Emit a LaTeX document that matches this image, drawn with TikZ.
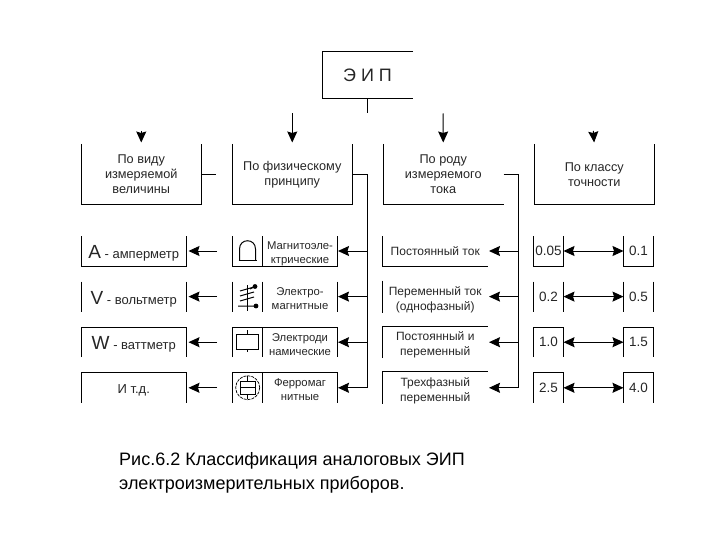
\documentclass[tikz,border=0pt]{standalone}
\usepackage{fontspec}
\setmainfont{Liberation Sans}
\usetikzlibrary{positioning,arrows.meta}
\newcommand{\drop}[1]{\rule{0pt}{#1}}
\tikzset{
    catbox/.style={rectangle, inner sep=0pt, outer sep=0pt, minimum width=120.5pt, minimum height=61pt, align=center, font=\fontsize{12.7}{15}\selectfont, text=black!85},
    widecell/.style={rectangle, inner sep=0pt, outer sep=0pt, minimum width=105.5pt, minimum height=30pt, align=center, font=\fontsize{12}{15}\selectfont, text=black!85},
    iconcell/.style={rectangle, inner sep=0pt, outer sep=0pt, minimum width=30pt, minimum height=30pt, align=center, font=\fontsize{13.5}{15}\selectfont, text=black!85},
    textcell/.style={rectangle, inner sep=0pt, outer sep=0pt, minimum width=75pt, minimum height=30pt, align=center, font=\fontsize{11.3}{14}\selectfont, text=black!85},
    edge/.style={line width=1pt, black},
    arrowline/.style={line width=1pt, black, -{Stealth[length=11pt,width=10pt,inset=1.5pt]}},
    bothline/.style={line width=1pt, black, {Stealth[length=11pt,width=10pt,inset=1.5pt]}-{Stealth[length=11pt,width=10pt,inset=1.5pt]}}
}
\begin{document}
\begin{tikzpicture}[x=1pt, y=-1pt]
    \useasboundingbox (0,0) rectangle (720,540);

    % Top box and the four categories
    \node [rectangle, inner sep=0pt, outer sep=0pt, minimum width=91pt, minimum height=46.5pt, font=\fontsize{18}{20}\selectfont, text=black!85] (eip) at (367.5,75.25) {Э И П};
    \node [catbox] (kind) at (141.25,174.5) {По виду\\измеряемой\\величины};
    \node [catbox, right=30.5pt of kind] (phys) {По физическому\\принципу};
    \node [catbox, right=30.5pt of phys] (curr) {По роду\\измеряемого\\тока};
    \node [catbox, right=30.5pt of curr] (accu) {По классу\\точности};

    % First column
    \node [widecell, font=\fontsize{13}{15}\selectfont] (amp) at (133.75,251) {\drop{18pt}{\fontsize{19}{19}\selectfont A} - амперметр};
    \node [widecell, font=\fontsize{13}{15}\selectfont, below=15.6pt of amp] (volt) {\drop{18pt}{\fontsize{19}{19}\selectfont V} - вольтметр};
    \node [widecell, font=\fontsize{13}{15}\selectfont, below=15.6pt of volt] (watt) {\drop{18pt}{\fontsize{19}{19}\selectfont W} - ваттметр};
    \node [widecell, font=\fontsize{13}{15}\selectfont, below=15.6pt of watt] (etc) {\drop{13.5pt}И т.д.};

    % Second column
    \node [iconcell, right=46pt of amp] (magicon) {};
    \node [textcell, right=0pt of magicon] (mag) {\drop{12.5pt}Магнитоэле-\\ктрические};
    \node [iconcell, right=46pt of volt] (elmicon) {};
    \node [textcell, right=0pt of elmicon] (elm) {\drop{12.5pt}Электро-\\магнитные};
    \node [iconcell, right=46pt of watt] (dynicon) {};
    \node [textcell, right=0pt of dynicon] (dyn) {\drop{12.5pt}Электроди\\намические};
    \node [iconcell, right=46pt of etc] (ferricon) {};
    \node [textcell, right=0pt of ferricon] (ferr) {\drop{12.5pt}Ферромаг\\нитные};

    % Third column
    \node [widecell, right=45pt of mag] (dc) {Постоянный ток};
    \node [widecell, right=45pt of elm] (ac) {\drop{14.6pt}Переменный ток\\(однофазный)};
    \node [widecell, right=45pt of dyn] (dcac) {\drop{14.6pt}Постоянный и\\переменный};
    \node [widecell, right=45pt of ferr] (three) {\drop{14.6pt}Трехфазный\\переменный};

    % Fourth column
    \node [iconcell, right=45.5pt of dc] (c005) {0.05};
    \node [iconcell, right=60pt of c005] (c01) {0.1};
    \node [iconcell, right=45.5pt of ac] (c02) {0.2};
    \node [iconcell, right=60pt of c02] (c05) {0.5};
    \node [iconcell, right=45.5pt of dcac] (c10) {1.0};
    \node [iconcell, right=60pt of c10] (c15) {1.5};
    \node [iconcell, right=45.5pt of three] (c25) {2.5};
    \node [iconcell, right=60pt of c25] (c40) {4.0};

    % Box outlines (only the sides that show)
    \draw [edge] (eip.north east) -- (eip.north west) -- (eip.south west) -- (eip.south east);
    \draw [edge] (kind.north west) -- (kind.south west) -- (kind.south east) -- (kind.north east);
    \draw [edge] (phys.north west) -- (phys.south west) -- (phys.south east) -- (phys.north east);
    \draw [edge] (curr.north west) -- (curr.south west) -- (curr.south east);
    \draw [edge] (accu.north west) -- (accu.south west) -- (accu.south east) -- (accu.north east);

    \draw [edge] (amp.north west) -- (amp.south west) -- (amp.south east) -- (amp.north east);
    \draw [edge] (volt.north west) -- (volt.south west) (volt.north east) -- (volt.south east);
    \draw [edge] (watt.south west) -- (watt.north west) -- (watt.north east) -- (watt.south east);
    \draw [edge] (etc.south west) -- (etc.north west) -- (etc.north east) -- (etc.south east);

    \draw [edge] (magicon.north west) -- (magicon.south west) -- (mag.south east) -- (mag.north east) (magicon.north east) -- (magicon.south east);
    \draw [edge] (elmicon.north west) -- (elmicon.south west) (elmicon.north east) -- (elmicon.south east) (elm.north east) -- (elm.south east);
    \draw [edge] (dynicon.south west) -- (dynicon.north west) -- (dyn.north east) -- (dyn.south east) (dynicon.north east) -- (dynicon.south east);
    \draw [edge] (ferricon.south west) -- (ferricon.north west) -- (ferr.north east) -- (ferr.south east) (ferricon.north east) -- (ferricon.south east);

    \draw [edge] (dc.north west) -- (dc.south west) -- (dc.south east);
    \draw [edge] (ac.north west) -- (ac.south west);
    \draw [edge] (dcac.south west) -- (dcac.north west) -- (dcac.north east);
    \draw [edge] (three.south west) -- (three.north west) -- (three.north east);

    \draw [edge] (c005.north west) -- (c005.south west) -- (c005.south east) -- (c005.north east);
    \draw [edge] (c01.north west) -- (c01.south west) -- (c01.south east) -- (c01.north east);
    \draw [edge] (c02.north west) -- (c02.south west) (c02.north east) -- (c02.south east);
    \draw [edge] (c05.north west) -- (c05.south west) (c05.north east) -- (c05.south east);
    \draw [edge] (c10.south west) -- (c10.north west) -- (c10.north east) -- (c10.south east);
    \draw [edge] (c15.south west) -- (c15.north west) -- (c15.north east) -- (c15.south east);
    \draw [edge] (c25.south west) -- (c25.north west) -- (c25.north east) -- (c25.south east);
    \draw [edge] (c40.south west) -- (c40.north west) -- (c40.north east) -- (c40.south east);

    % Free ends
    \coordinate [below=14.5pt of eip.south] (eipstub);
    \coordinate (head1) at (141.25,131);
    \coordinate (phystop) at (292.25,113.5);
    \coordinate (currtop) at (443,113.5);
    \coordinate (head4) at (593.25,131);
    \coordinate [right=14.5pt of kind.east] (kindstub);
    \coordinate [right=14.5pt of phys.east] (physbus);
    \coordinate [right=15pt of curr.east] (currbus);
    \coordinate [left=15.5pt of magicon.west] (magstub);
    \coordinate [left=15.5pt of elmicon.west] (elmstub);
    \coordinate [left=15.5pt of dynicon.west] (dynstub);
    \coordinate [left=15.5pt of ferricon.west] (ferrstub);

    % Connectors
    \draw [edge] (eip.south) -- (eipstub);
    \draw [arrowline, shorten >=1.5pt] (head1) -- (kind.north);
    \draw [arrowline, shorten >=1.5pt] (phystop) -- (phys.north);
    \draw [arrowline, shorten >=1.5pt] (currtop) -- (curr.north);
    \draw [arrowline, shorten >=1.5pt] (head4) -- (accu.north);
    \draw [edge] (kind.east) -- (kindstub);
    \draw [edge] (phys.east) -- (physbus) -- (physbus |- ferr.east);
    \draw [edge] (curr.east) -- (currbus) -- (currbus |- three.east);

    \draw [arrowline, shorten >=2pt] (magstub) -- (amp.east);
    \draw [arrowline, shorten >=2pt] (elmstub) -- (volt.east);
    \draw [arrowline, shorten >=2pt] (dynstub) -- (watt.east);
    \draw [arrowline, shorten >=2pt] (ferrstub) -- (etc.east);

    \draw [arrowline, shorten >=0.5pt] (physbus |- mag.east) -- (mag.east);
    \draw [arrowline, shorten >=0.5pt] (physbus |- elm.east) -- (elm.east);
    \draw [arrowline, shorten >=0.5pt] (physbus |- dyn.east) -- (dyn.east);
    \draw [arrowline, shorten >=0.5pt] (physbus |- ferr.east) -- (ferr.east);

    \draw [arrowline, shorten >=1pt] (currbus |- dc.east) -- (dc.east);
    \draw [arrowline, shorten >=1pt] (currbus |- ac.east) -- (ac.east);
    \draw [arrowline, shorten >=1pt] (currbus |- dcac.east) -- (dcac.east);
    \draw [arrowline, shorten >=1pt] (currbus |- three.east) -- (three.east);

    \draw [bothline] (c005) -- (c01);
    \draw [bothline] (c02) -- (c05);
    \draw [bothline] (c10) -- (c15);
    \draw [bothline] (c25) -- (c40);

    % Device symbols
    \draw [edge] (239.5,260.5) -- (239.5,249) .. controls (239.5,238) and (255.5,238) .. (255.5,249) -- (255.5,260.5);
    \draw [line width=1.8pt] (238.5,260.5) -- (256.5,260.5);

    \draw [edge] (247,285) -- (247,311);
    \draw [edge] (240,291) -- (254,287) (240,296) -- (254,292) (240,301) -- (254,297);
    \draw [edge] (238,306) -- (256,306) (250,289) -- (255,286.5);
    \fill (255,286.5) circle (2.4pt) (256,306) circle (2.4pt);

    \draw [edge] (236,334) rectangle (258,349);
    \draw [edge] (247,330) -- (247,334) (247,349) -- (247,352);

    \draw [line width=0.7pt, dash pattern=on 3pt off 1pt] (247.7,387.7) circle (12pt);
    \draw [edge] (240,381) rectangle (255,394);
    \draw [edge] (240,387.5) -- (255,387.5) (247.5,376) -- (247.5,381) (247.5,394) -- (247.5,399);

    % Caption
    \node [inner sep=0pt, align=left, anchor=north west, font=\fontsize{18}{24}\selectfont] (caption) at (119,452) {Рис.6.2 Классификация аналоговых ЭИП\\электроизмерительных приборов.};
\end{tikzpicture}
\end{document}
